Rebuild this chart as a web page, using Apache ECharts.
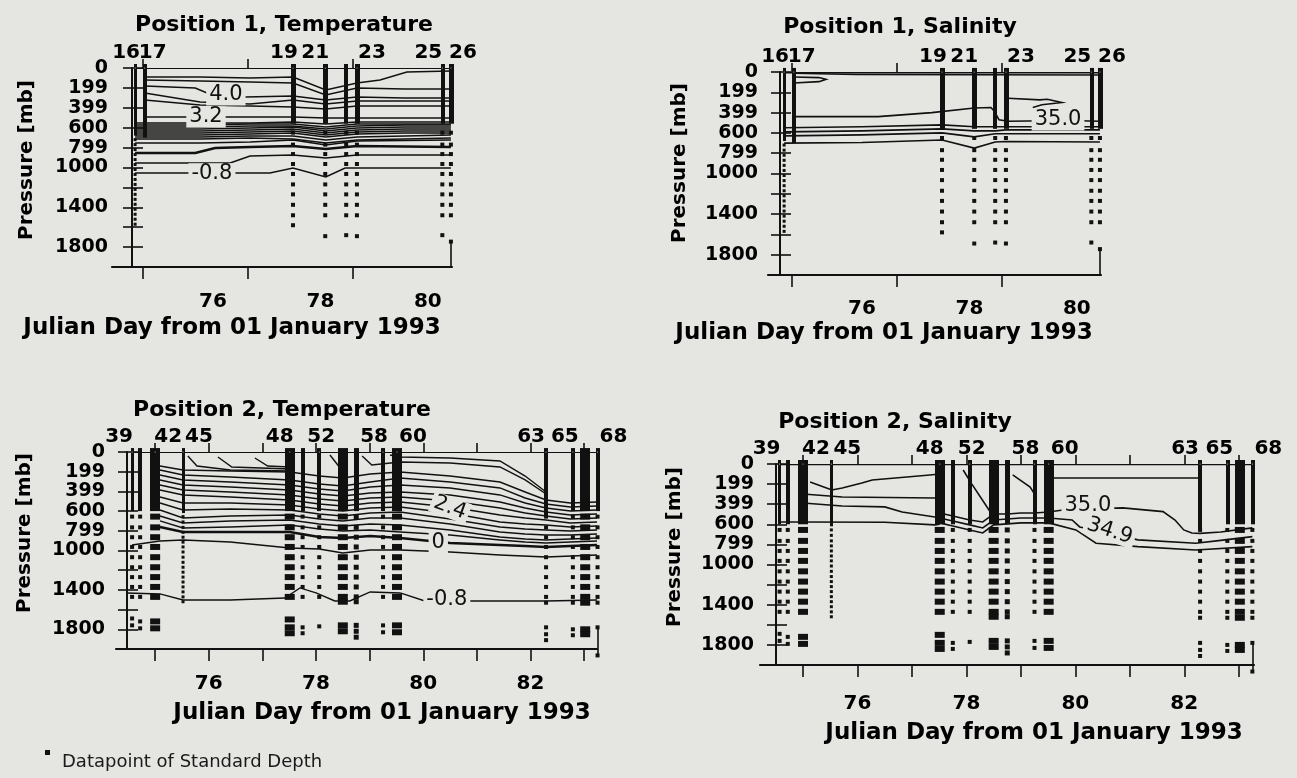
<!DOCTYPE html>
<html>
<head>
<meta charset="utf-8">
<title>Position 1 / Position 2 - Temperature and Salinity sections</title>
<script src="https://cdn.jsdelivr.net/npm/echarts@6/dist/echarts.min.js"></script>
<style>
  html, body { margin: 0; padding: 0; background: #e5e5e2; }
  #chart { width: 1297px; height: 778px; }
</style>
</head>
<body>
<div id="chart"></div>
<script>
const INK = '#111';
const PAPER = '#e5e5e2';
const FONT = 'DejaVu Sans';

// ---- pressure axis (mb)
const PRESSURE_TICKS = [0, 200, 400, 600, 800, 1000, 1200, 1400, 1600, 1800];
const PRESSURE_LABEL_AT = [0, 200, 400, 600, 800, 1000, 1400, 1800];
const PRESSURE_LABEL_TEXT = ['0', '199', '399', '600', '799', '1000', '1400', '1800'];

// ---- day axis (Julian day 1993)
const POS1_DAY_LABELS = [76, 78, 80];
const POS1_DAY_TICKS = [74.69, 76.64, 78.61];
const POS2_DAY_LABELS = [76, 78, 80, 82];
const POS2_DAY_TICKS = [75, 76, 77, 78, 79, 80, 81, 82, 83];

// ---- Position 1 casts (same casts in both Position 1 panels)
const POS1_CAST_DAY = [74.55, 74.73, 77.49, 78.09, 78.48, 78.68, 80.27, 80.43];
const POS1_CAST_NAME = ['16', '17', '19', '21', '', '23', '25', '26'];
const POS1_CAST_BAR_END = [680, 700, 560, 560, 560, 560, 560, 560];
const POS1_CAST_POINTS = [
  [720, 770, 820, 870, 920, 970, 1020, 1070, 1120, 1170, 1220, 1270, 1320, 1370, 1420, 1470, 1520, 1570],
  [],
  [650, 770, 865, 965, 1065, 1170, 1270, 1375, 1480, 1580],
  [650, 770, 865, 965, 1065, 1170, 1270, 1375, 1480, 1690],
  [650, 770, 865, 965, 1065, 1170, 1270, 1375, 1480, 1680],
  [650, 770, 865, 965, 1065, 1170, 1270, 1375, 1480, 1690],
  [650, 770, 865, 965, 1065, 1170, 1270, 1375, 1480, 1680],
  [650, 770, 865, 965, 1065, 1170, 1270, 1375, 1480, 1745]
];
const POS1_EDGE = [[80.43, 1745], [80.43, 2000]];

// ---- Position 2 casts (same casts in both Position 2 panels)
const POS2_CAST_DAY = [74.57, 74.72, 75.00, 75.52, 77.51, 77.75, 78.06, 78.50, 78.75, 79.25, 79.51, 82.29, 82.79, 83.02, 83.25];
const POS2_CAST_NAME = ['39', '', '42', '45', '48', '', '52', '', '', '58', '60', '63', '65', '', '68'];
const POS2_CAST_BAR_END = [600, 600, 600, 620, 600, 600, 600, 600, 600, 600, 600, 650, 600, 600, 600];
const POS2_CAST_POINTS = [
  [656, 765, 865, 964, 1068, 1170, 1270, 1370, 1471, 1690, 1760],
  [656, 765, 865, 964, 1068, 1170, 1270, 1370, 1471, 1720, 1790],
  [656, 765, 865, 964, 1068, 1170, 1270, 1370, 1471, 1720, 1790],
  [656, 710, 765, 815, 865, 915, 964, 1015, 1068, 1120, 1170, 1220, 1270, 1320, 1370, 1420, 1471, 1520],
  [656, 765, 865, 964, 1068, 1170, 1270, 1370, 1471, 1700, 1780, 1840],
  [656, 765, 865, 964, 1068, 1170, 1270, 1370, 1471, 1780, 1840],
  [656, 765, 865, 964, 1068, 1170, 1270, 1370, 1471, 1770],
  [656, 765, 865, 964, 1068, 1170, 1270, 1370, 1471, 1520, 1760, 1820],
  [656, 765, 865, 964, 1068, 1170, 1270, 1370, 1471, 1520, 1760, 1820, 1880],
  [656, 765, 865, 964, 1068, 1170, 1270, 1370, 1471, 1760, 1830],
  [656, 765, 865, 964, 1068, 1170, 1270, 1370, 1471, 1760, 1830],
  [656, 765, 865, 964, 1068, 1170, 1270, 1370, 1471, 1530, 1780, 1850, 1910],
  [656, 765, 865, 964, 1068, 1170, 1270, 1370, 1471, 1530, 1800, 1860],
  [656, 765, 865, 964, 1068, 1170, 1270, 1370, 1471, 1530, 1800, 1850],
  [656, 765, 865, 964, 1068, 1170, 1270, 1370, 1471, 1530, 1780, 2065]
];
const POS2_EDGE = [[83.25, 1780], [83.25, 2065]];

// ---- Position 1, Temperature isolines [day, mb]
const P1T_SURFACE = [[74.55, 0], [80.43, 0]];
const P1T_U1 = [[74.73, 90], [75.76, 90], [76.69, 100], [77.49, 90], [78.10, 221], [78.68, 151], [79.11, 121], [79.61, 40], [80.43, 30]];
const P1T_U2 = [[74.73, 121], [75.76, 131], [76.69, 141], [77.49, 151], [78.10, 271], [78.68, 201], [79.57, 211], [80.43, 211]];
const P1T_40 = [[74.73, 181], [75.67, 201], [75.89, 251], [76.22, 271], [76.60, 291], [77.49, 281], [78.10, 322], [78.68, 291], [79.57, 302], [80.43, 302]];
const P1T_U4 = [[74.73, 251], [75.76, 342], [76.69, 362], [77.49, 322], [78.10, 362], [78.68, 332], [79.57, 332], [80.43, 332]];
const P1T_U5 = [[74.73, 322], [75.76, 372], [76.69, 382], [77.49, 392], [78.10, 412], [78.68, 382], [79.57, 382], [80.43, 382]];
const P1T_32 = [[74.73, 492], [76.69, 492], [77.49, 492], [78.10, 503], [78.68, 503], [80.43, 503]];
const P1T_BAND_DAYS = [74.55, 75.76, 76.69, 77.49, 78.10, 78.68, 79.57, 80.43];
const P1T_BAND = [
  [553, 553, 553, 543, 563, 543, 543, 543],
  [573, 573, 563, 563, 593, 563, 563, 563],
  [593, 593, 583, 583, 613, 583, 573, 573],
  [613, 613, 603, 593, 633, 603, 593, 593],
  [633, 633, 623, 613, 653, 623, 613, 613],
  [653, 653, 643, 633, 673, 643, 633, 633],
  [673, 673, 663, 653, 693, 663, 653, 653],
  [693, 693, 683, 683, 724, 693, 683, 673],
  [714, 714, 704, 714, 754, 724, 714, 704]
];
const P1T_D0 = [[74.55, 754], [75.76, 754], [76.69, 744], [77.49, 724], [78.10, 774], [78.68, 734], [80.43, 724]];
const P1T_D1 = [[74.55, 854], [75.67, 854], [76.04, 804], [76.69, 794], [77.49, 784], [78.10, 814], [78.68, 784], [80.43, 794]];
const P1T_D2 = [[74.55, 955], [76.32, 955], [76.69, 884], [77.49, 874], [78.10, 905], [78.68, 874], [80.43, 874]];
const P1T_M08 = [[74.55, 1055], [77.06, 1055], [77.49, 1005], [78.10, 1095], [78.46, 1005], [80.43, 1005]];
const P1T_LABELS = [['4.0', 76.24, 271, 0], ['3.2', 75.87, 492, 0], ['-0.8', 75.98, 1062, 0]];

// ---- Position 1, Salinity isolines
const P1S_SURFACE = [[74.55, 0], [80.43, 0]];
const P1S_TOP2 = [[74.73, 12], [75.9, 25], [80.43, 30]];
const P1S_LOOP = [[74.73, 49], [75.2, 55], [75.33, 72], [75.2, 95], [74.73, 108]];
const P1S_350 = [[74.73, 440], [76.3, 440], [77.3, 400], [78.09, 355], [78.40, 350], [78.46, 385], [78.55, 470], [78.72, 485], [79.45, 480], [79.85, 478], [80.43, 485]];
const P1S_TONGUE = [[78.72, 259], [79.31, 275], [79.45, 268], [79.72, 300], [79.35, 322], [79.18, 350]];
const P1S_LOW_DAYS = [74.55, 76.0, 77.49, 78.09, 78.48, 78.68, 80.43];
const P1S_LOW = [
  [550, 540, 521, 540, 540, 540, 540],
  [590, 580, 560, 580, 580, 570, 570],
  [629, 619, 600, 639, 609, 609, 609],
  [701, 695, 670, 750, 690, 685, 690]
];
const P1S_LABELS = [['35.0', 79.65, 472, 0]];

// ---- Position 2, Temperature isolines
const P2T_SURFACE = [[74.57, 0], [83.25, 0]];
const P2T_FAN_DAYS = [75.09, 75.52, 76.40, 77.51, 78.06, 78.50, 79.01, 79.57, 80.50, 81.43, 81.90, 82.29, 82.74, 83.24];
const P2T_FAN = [
  [142, 183, 193, 203, 244, 264, 223, 203, 244, 305, 406, 487, 518, 508],
  [183, 233, 254, 284, 325, 345, 305, 264, 305, 365, 467, 528, 558, 548],
  [233, 284, 305, 335, 376, 396, 355, 335, 365, 436, 518, 568, 599, 589],
  [284, 335, 355, 386, 426, 447, 416, 406, 436, 508, 568, 609, 639, 629],
  [335, 386, 406, 436, 477, 497, 467, 457, 497, 568, 619, 650, 680, 670],
  [386, 436, 457, 487, 528, 548, 518, 508, 558, 639, 670, 690, 721, 711],
  [457, 518, 518, 538, 579, 599, 568, 558, 619, 711, 731, 741, 761, 751],
  [518, 589, 579, 589, 629, 650, 619, 609, 680, 761, 782, 792, 802, 792],
  [589, 670, 650, 639, 680, 700, 670, 670, 731, 812, 832, 842, 842, 832],
  [650, 721, 700, 690, 731, 751, 731, 741, 792, 863, 883, 893, 883, 873],
  [700, 771, 761, 741, 782, 802, 792, 812, 842, 893, 914, 924, 914, 903],
  [761, 812, 812, 812, 863, 873, 853, 873, 924, 944, 954, 964, 954, 944]
];
const P2T_OA = [[75.61, 41], [75.78, 142], [76.40, 183], [77.51, 193]];
const P2T_OB = [[76.17, 51], [76.43, 152], [77.51, 173]];
const P2T_OC = [[76.86, 61], [77.10, 142], [77.51, 152]];
const P2T_OD = [[78.26, 30], [78.45, 162], [78.54, 223]];
const P2T_OE = [[78.86, 41], [79.04, 132], [79.57, 102], [80.50, 112], [81.43, 152], [81.90, 284], [82.29, 426]];
const P2T_OF = [[79.38, 30], [79.57, 51], [80.50, 61], [81.43, 91], [81.90, 244], [82.29, 406]];
const P2T_B1000 = [[74.57, 944], [75.09, 903], [75.52, 893], [76.40, 914], [77.51, 974], [78.06, 985], [78.50, 1025], [79.01, 995], [79.57, 995], [80.50, 1015], [81.43, 1045], [82.29, 1066], [83.24, 1045]];
const P2T_M08 = [[74.47, 1431], [75.09, 1441], [75.52, 1502], [76.40, 1502], [77.42, 1482], [77.70, 1380], [78.00, 1431], [78.35, 1512], [78.63, 1512], [79.01, 1421], [79.57, 1431], [80.03, 1512], [80.87, 1512], [82.29, 1512], [83.24, 1502]];
const P2T_LABELS = [['2.4', 80.50, 565, -20], ['0', 80.28, 924, 0], ['-0.8', 80.44, 1502, 0]];

// ---- Position 2, Salinity isolines
const P2S_SURFACE = [[74.57, 0], [83.25, 0]];
const P2S_T1 = [[79.51, 139], [82.29, 139]];
const P2S_S1 = [[75.13, 179], [75.28, 209], [75.53, 258], [75.72, 239], [76.08, 189], [76.27, 159], [77.33, 109], [77.51, 100]];
const P2S_S2 = [[75.00, 298], [75.72, 328], [77.42, 338], [77.51, 340]];
const P2S_S3 = [[75.00, 388], [75.72, 418], [76.50, 427], [76.82, 477], [77.42, 527], [77.51, 530]];
const P2S_S5 = [[74.57, 577], [75.00, 577], [76.50, 580], [77.42, 606], [77.51, 600]];
const P2S_MID_DAYS = [77.51, 77.75, 78.06, 78.30, 78.50, 78.75, 79.00, 79.25, 79.51];
const P2S_MID = [
  [487, 517, 557, 577, 497, 497, 487, 487, 477],
  [537, 567, 606, 636, 557, 547, 537, 537, 537],
  [586, 616, 656, 686, 606, 596, 586, 586, 586]
];
const P2S_350 = [[79.51, 477], [79.77, 457], [80.87, 437], [81.61, 474], [81.83, 557], [81.99, 656], [82.14, 686], [82.29, 690], [82.67, 676], [83.25, 636]];
const P2S_349 = [[79.51, 537], [79.94, 557], [80.08, 626], [80.63, 690], [81.15, 755], [82.21, 788], [82.67, 760], [83.25, 723]];
const P2S_L3 = [[79.51, 586], [80.01, 656], [80.38, 788], [81.15, 822], [82.21, 855], [83.25, 822]];
const P2S_N1 = [[77.94, 60], [78.10, 200], [78.43, 470]];
const P2S_N2 = [[78.85, 109], [79.17, 229], [79.26, 308]];
const P2S_LABELS = [['35.0', 80.23, 410, 0], ['34.9', 80.63, 666, -18]];

// ---------------------------------------------------------------------------
function rows(days, table) {
  return table.map(r => r.map((v, k) => [days[k], v]));
}
function plain(list, w) {
  return list.map(c => ({ coords: c, lineStyle: { width: w } }));
}

const POS1_STYLE = { widths: [3, 4, 5, 5, 4, 5, 4, 5], dot: [3, 4, 4, 4, 4, 4, 4, 4], shift: [-9, 8, -9, -10, 0, 15, -14, 12] };
const POS2_STYLE = {
  widths: [3, 4, 10, 3, 10, 4, 4, 10, 5, 4, 10, 4, 4, 10, 4],
  dot: [4, 4, 10, 3, 10, 4, 4, 10, 5, 4, 10, 4, 4, 10, 4],
  shift: [-13, 0, 13, 16, -10, 0, 2, 0, 0, -9, 16, -15, -8, 0, 16]
};

const PANELS = [
  {
    title: 'Position 1, Temperature', box: [112, 68, 340, 199], xRange: [74.12, 80.45], yOffset: -20,
    dayLabels: POS1_DAY_LABELS, dayTicks: POS1_DAY_TICKS, xMargin: 25, yMargin: 24,
    days: POS1_CAST_DAY, names: POS1_CAST_NAME, barEnd: POS1_CAST_BAR_END, points: POS1_CAST_POINTS, edge: POS1_EDGE, style: POS1_STYLE,
    titleAt: [284, 25], yNameAt: [27, 160], xNameAt: [232, 328],
    contours: [].concat(
      plain([P1T_SURFACE], 2.2),
      plain([P1T_U1, P1T_U2, P1T_40, P1T_U4, P1T_U5, P1T_32], 1.5),
      plain(rows(P1T_BAND_DAYS, P1T_BAND), 1.4),
      plain([P1T_D0, P1T_D2, P1T_M08], 1.5),
      plain([P1T_D1], 2.6)),
    labels: P1T_LABELS
  },
  {
    title: 'Position 1, Salinity', box: [768, 72, 333, 203], xRange: [74.25, 80.45], yOffset: -12,
    dayLabels: POS1_DAY_LABELS, dayTicks: POS1_DAY_TICKS, xMargin: 24, yMargin: 22,
    days: POS1_CAST_DAY, names: POS1_CAST_NAME, barEnd: POS1_CAST_BAR_END, points: POS1_CAST_POINTS, edge: POS1_EDGE, style: POS1_STYLE,
    titleAt: [900, 27], yNameAt: [680, 163], xNameAt: [884, 333],
    contours: [].concat(
      plain([P1S_SURFACE], 2.8),
      plain([P1S_TOP2, P1S_LOOP, P1S_350, P1S_TONGUE], 1.6),
      plain(rows(P1S_LOW_DAYS, P1S_LOW), 1.6)),
    labels: P1S_LABELS
  },
  {
    title: 'Position 2, Temperature', box: [116, 452, 481, 197], xRange: [74.27, 83.24], yOffset: -11,
    dayLabels: POS2_DAY_LABELS, dayTicks: POS2_DAY_TICKS, xMargin: 25, yMargin: 22,
    days: POS2_CAST_DAY, names: POS2_CAST_NAME, barEnd: POS2_CAST_BAR_END, points: POS2_CAST_POINTS, edge: POS2_EDGE, style: POS2_STYLE,
    titleAt: [282, 410], yNameAt: [25, 533], xNameAt: [382, 713],
    contours: [].concat(
      plain([P2T_SURFACE], 2.2),
      plain(rows(P2T_FAN_DAYS, P2T_FAN.slice(0, 11)), 1.4),
      plain(rows(P2T_FAN_DAYS, P2T_FAN.slice(11)), 2.6),
      plain([P2T_OA, P2T_OB, P2T_OC, P2T_OD, P2T_OE, P2T_OF, P2T_B1000, P2T_M08], 1.4)),
    labels: P2T_LABELS
  },
  {
    title: 'Position 2, Salinity', box: [760, 464, 494, 201], xRange: [74.21, 83.28], yOffset: -16,
    dayLabels: POS2_DAY_LABELS, dayTicks: POS2_DAY_TICKS, xMargin: 29, yMargin: 22,
    days: POS2_CAST_DAY, names: POS2_CAST_NAME, barEnd: POS2_CAST_BAR_END, points: POS2_CAST_POINTS, edge: POS2_EDGE, style: POS2_STYLE,
    titleAt: [895, 422], yNameAt: [675, 547], xNameAt: [1034, 733],
    contours: [].concat(
      plain([P2S_SURFACE], 2.4),
      plain([P2S_T1, P2S_S1, P2S_S2, P2S_S3, P2S_S5, P2S_350, P2S_349, P2S_L3, P2S_N1, P2S_N2], 1.6),
      plain(rows(P2S_MID_DAYS, P2S_MID), 1.6)),
    labels: P2S_LABELS
  }
];

const grids = [], xAxes = [], yAxes = [], series = [], graphics = [];
const tickStyle = { color: INK, width: 1.6 };
const tickFont = { color: '#000', fontFamily: FONT, fontWeight: 'bold', fontSize: 20 };

function centeredText(text, x, y, font, rotation) {
  return {
    type: 'text', x, y, rotation: rotation || 0,
    style: { text, fill: '#000', font, textAlign: 'center', textVerticalAlign: 'middle', align: 'center', verticalAlign: 'middle' }
  };
}

PANELS.forEach((p, i) => {
  const [left, top, width, height] = p.box;
  const a = 2 * i, b = 2 * i + 1;
  grids.push({ left, top, width, height }, { left, top, width, height });

  const xBase = { type: 'value', position: 'bottom', min: p.xRange[0], max: p.xRange[1], splitLine: { show: false } };
  xAxes.push(
    Object.assign({}, xBase, {
      gridIndex: a,
      axisLine: { show: true, onZero: false, lineStyle: { color: INK, width: 2.2 } },
      axisTick: { show: true, length: 12, customValues: p.dayTicks, lineStyle: tickStyle },
      axisLabel: Object.assign({ show: true, customValues: p.dayLabels, margin: p.xMargin, hideOverlap: false }, tickFont)
    }),
    Object.assign({}, xBase, {
      gridIndex: b,
      axisLine: { show: false },
      axisTick: { show: true, inside: true, length: 9, customValues: p.dayTicks, lineStyle: tickStyle },
      axisLabel: { show: false }
    })
  );

  const yBase = { type: 'value', position: 'left', inverse: true, min: 0, max: 2000, offset: p.yOffset, splitLine: { show: false } };
  yAxes.push(
    Object.assign({}, yBase, {
      gridIndex: a,
      axisLine: { show: true, onZero: false, lineStyle: { color: INK, width: 2 } },
      axisTick: { show: true, length: 9, customValues: PRESSURE_TICKS, lineStyle: tickStyle },
      axisLabel: Object.assign({
        show: true, customValues: PRESSURE_LABEL_AT, margin: p.yMargin,
        showMinLabel: true, showMaxLabel: true, hideOverlap: false,
        formatter: v => PRESSURE_LABEL_TEXT[PRESSURE_LABEL_AT.indexOf(v)]
      }, tickFont, { fontSize: 19, lineHeight: 19 })
    }),
    Object.assign({}, yBase, {
      gridIndex: b,
      axisLine: { show: false },
      axisTick: { show: true, inside: true, length: 11, customValues: PRESSURE_TICKS, lineStyle: tickStyle },
      axisLabel: { show: false }
    })
  );

  const on = { xAxisIndex: a, yAxisIndex: a, silent: true, animation: false };

  // isolines
  series.push(Object.assign({
    type: 'lines', coordinateSystem: 'cartesian2d', polyline: true, z: 2,
    lineStyle: { color: INK, opacity: 1 }, data: p.contours
  }, on));

  // solid runs of samples near the surface
  series.push(Object.assign({
    type: 'lines', coordinateSystem: 'cartesian2d', clip: false, z: 3,
    lineStyle: { color: INK, opacity: 1 },
    data: p.days.map((d, k) => ({ coords: [[d, -40], [d, p.barEnd[k]]], lineStyle: { width: p.style.widths[k] } }))
      .concat([{ coords: p.edge, lineStyle: { width: 1.6 } }])
  }, on));

  // datapoints of standard depth
  const pts = [];
  p.days.forEach((d, k) => p.points[k].forEach(mb => pts.push({
    value: [d, mb], symbolSize: [p.style.dot[k], p.style.dot[k] > 6 ? 6 : p.style.dot[k]]
  })));
  series.push(Object.assign({
    type: 'scatter', symbol: 'rect', clip: false, z: 3, itemStyle: { color: INK, opacity: 1 }, data: pts
  }, on));

  // station numbers (anchor dot drawn in paper colour)
  series.push(Object.assign({
    type: 'scatter', symbolSize: 1, clip: false, z: 4, itemStyle: { color: PAPER, opacity: 1 },
    data: p.days.map((d, k) => ({ value: [d, 0], name: p.names[k], label: { offset: [p.style.shift[k], 0] } }))
      .filter(o => o.name),
    label: Object.assign({ show: true, position: 'top', distance: 5, formatter: o => o.name }, tickFont)
  }, on));

  // isoline values
  series.push(Object.assign({
    type: 'scatter', symbolSize: 1, z: 5, itemStyle: { color: PAPER, opacity: 1 },
    data: p.labels.map(l => ({ value: [l[1], l[2]], name: l[0], label: { rotate: l[3] } })),
    label: {
      show: true, position: 'inside', formatter: o => o.name, color: '#111', fontFamily: FONT,
      fontSize: 21, backgroundColor: PAPER, padding: [0, 3]
    }
  }, on));

  graphics.push(
    centeredText(p.title, p.titleAt[0], p.titleAt[1], 'bold 22px "DejaVu Sans"'),
    centeredText('Pressure [mb]', p.yNameAt[0], p.yNameAt[1], 'bold 20px "DejaVu Sans"', Math.PI / 2),
    centeredText('Julian Day from 01 January 1993', p.xNameAt[0], p.xNameAt[1], 'bold 23px "DejaVu Sans"')
  );
});

graphics.push(
  { type: 'rect', shape: { x: 45, y: 750, width: 5, height: 5 }, style: { fill: INK } },
  { type: 'text', x: 62, y: 762, style: { text: 'Datapoint of Standard Depth', fill: '#1a1a1a', font: '18px "DejaVu Sans"', textAlign: 'left', textVerticalAlign: 'middle', align: 'left', verticalAlign: 'middle' } }
);

const chart = echarts.init(document.getElementById('chart'));
chart.setOption({
  backgroundColor: PAPER,
  animation: false,
  grid: grids,
  xAxis: xAxes,
  yAxis: yAxes,
  series: series,
  graphic: graphics
});
</script>
</body>
</html>
